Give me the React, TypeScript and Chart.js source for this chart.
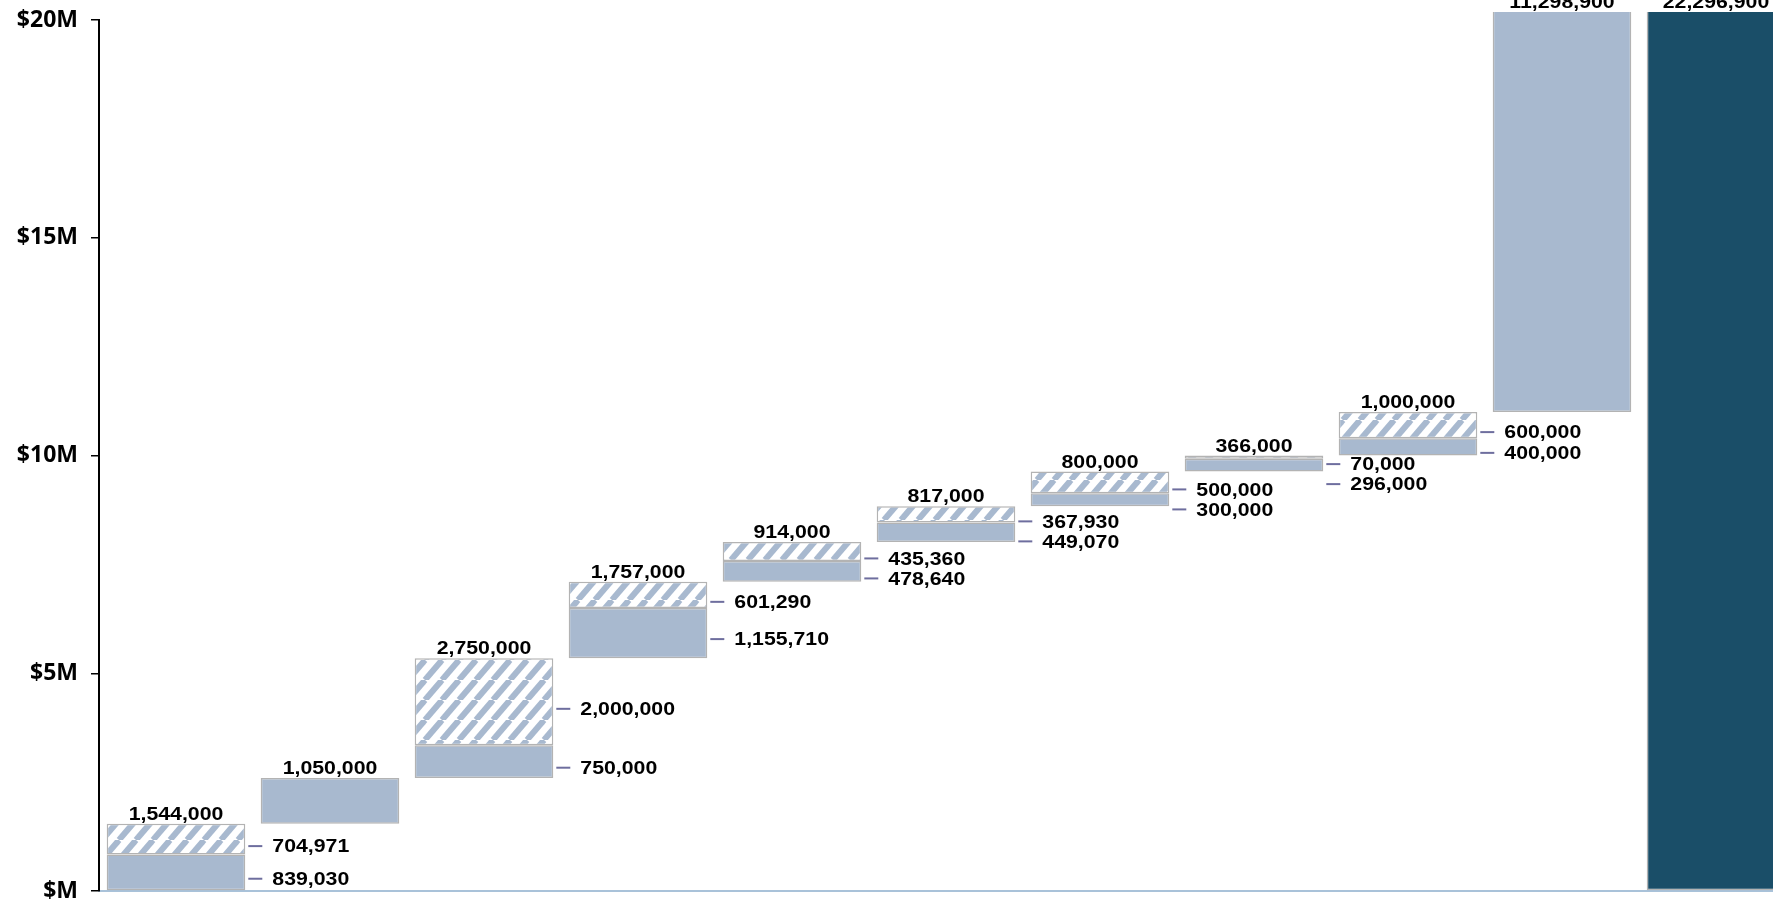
import React, { useEffect, useRef } from 'react';
import { Chart, registerables } from 'chart.js';

Chart.register(...registerables);

// ---- Data ----
const categories = ['Step 1', 'Step 2', 'Step 3', 'Step 4', 'Step 5', 'Step 6', 'Step 7', 'Step 8', 'Step 9', 'Step 10', 'Total'];
const stepTotals = [1544000, 1050000, 2750000, 1757000, 914000, 817000, 800000, 366000, 1000000, 11298900, 22296900];
const solidValues = [839030, 1050000, 750000, 1155710, 478640, 449070, 300000, 296000, 400000, 11298900, 22296900];
const hatchedValues = [704971, 0, 2000000, 601290, 435360, 367930, 500000, 70000, 600000, 0, 0];
const isTotal = [false, false, false, false, false, false, false, false, false, false, true];
const tickValues = [0, 5000000, 10000000, 15000000, 20000000];
const tickLabels = ['$M', '$5M', '$10M', '$15M', '$20M'];

// ---- Derived waterfall bases ----
const bases: number[] = [];
{
  let running = 0;
  for (let i = 0; i < stepTotals.length; i++) {
    if (isTotal[i]) {
      bases.push(0);
    } else {
      bases.push(running);
      running += stepTotals[i];
    }
  }
}
const solidRanges = solidValues.map((v, i) => [bases[i], bases[i] + v]);
const hatchedRanges = hatchedValues.map((v, i) =>
  v > 0 ? [bases[i] + solidValues[i], bases[i] + stepTotals[i]] : null
);

const fmt = (v: number) => v.toLocaleString('en-US');

const SOLID = '#a8b9cf';
const DARK = '#1a4e68';
const BORDER = '#b3b3b3';
const CLIP_TOP = 8;

function makeHatch(): CanvasPattern | string {
  const W = 17;
  const H = 20;
  const c = document.createElement('canvas');
  c.width = W;
  c.height = H;
  const ctx = c.getContext('2d');
  if (!ctx) return SOLID;
  ctx.fillStyle = '#ffffff';
  ctx.fillRect(0, 0, W, H);
  ctx.strokeStyle = SOLID;
  ctx.lineWidth = 6;
  for (const dx of [-W, 0, W]) {
    ctx.beginPath();
    ctx.moveTo(dx, H);
    ctx.lineTo(dx + W, 0);
    ctx.stroke();
  }
  const mainCtx = document.createElement('canvas').getContext('2d');
  const p = mainCtx ? mainCtx.createPattern(c, 'repeat') : null;
  return p || SOLID;
}

function drawStretched(ctx: CanvasRenderingContext2D, text: string, x: number, y: number, align: CanvasTextAlign, baseline: CanvasTextBaseline) {
  ctx.save();
  ctx.translate(x, y);
  ctx.scale(1.12, 1);
  ctx.textAlign = align;
  ctx.textBaseline = baseline;
  ctx.fillText(text, 0, 0);
  ctx.restore();
}

const labelPlugin = {
  id: 'waterfallLabels',
  afterDatasetsDraw(chart: any) {
    const ctx: CanvasRenderingContext2D = chart.ctx;
    const y = chart.scales.y;
    const area = chart.chartArea;
    const meta = chart.getDatasetMeta(0);
    ctx.save();
    ctx.fillStyle = '#000000';
    ctx.font = "bold 19px 'Liberation Sans', Arial, sans-serif";
    for (let i = 0; i < stepTotals.length; i++) {
      const el = meta.data[i];
      if (!el) continue;
      const right = el.x + el.width / 2;
      const topPx = Math.max(y.getPixelForValue(bases[i] + stepTotals[i]), area.top - CLIP_TOP);
      drawStretched(ctx, fmt(stepTotals[i]), el.x, topPx - 4, 'center', 'alphabetic');
      if (hatchedValues[i] > 0) {
        const pBase = y.getPixelForValue(bases[i]);
        const pMid = y.getPixelForValue(bases[i] + solidValues[i]);
        const pTop = y.getPixelForValue(bases[i] + stepTotals[i]);
        const upperY = (pMid + pTop) / 2 + 7;
        let lowerY = (pBase + pMid) / 2 + 6;
        if (lowerY - upperY < 20) lowerY = upperY + 20;
        const items: [number, number][] = [[upperY, hatchedValues[i]], [lowerY, solidValues[i]]];
        for (const [ly, val] of items) {
          ctx.save();
          ctx.strokeStyle = '#6e6e9e';
          ctx.lineWidth = 2;
          ctx.beginPath();
          ctx.moveTo(right + 3, ly);
          ctx.lineTo(right + 17, ly);
          ctx.stroke();
          ctx.restore();
          drawStretched(ctx, fmt(val), right + 27, ly + 1, 'left', 'middle');
        }
      }
    }
    ctx.restore();
  },
};

export default function App() {
  const canvasRef = useRef<HTMLCanvasElement | null>(null);

  useEffect(() => {
    document.body.style.margin = '0';
    const canvas = canvasRef.current;
    if (!canvas) return;
    const hatch = makeHatch();
    const chart = new Chart(canvas, {
      type: 'bar',
      data: {
        labels: categories,
        datasets: [
          {
            label: 'Solid',
            data: solidRanges as any,
            backgroundColor: solidValues.map((_, i) => (isTotal[i] ? DARK : SOLID)),
            borderColor: BORDER,
            borderWidth: 1.5,
            borderSkipped: false,
            grouped: false,
            barPercentage: 0.9,
            categoryPercentage: 1.0,
            clip: { left: 0, top: CLIP_TOP, right: 0, bottom: 0 } as any,
          },
          {
            label: 'Hatched',
            data: hatchedRanges as any,
            backgroundColor: hatch as any,
            borderColor: BORDER,
            borderWidth: 1.5,
            borderSkipped: false,
            grouped: false,
            barPercentage: 0.9,
            categoryPercentage: 1.0,
            clip: { left: 0, top: CLIP_TOP, right: 0, bottom: 0 } as any,
          },
        ],
      },
      options: {
        animation: false,
        responsive: false,
        devicePixelRatio: 1,
        layout: { padding: { top: 20, right: 0, bottom: 0, left: 0 } },
        plugins: {
          legend: { display: false },
          tooltip: { enabled: false },
        },
        scales: {
          x: {
            type: 'category',
            ticks: { display: false },
            grid: { display: false },
            border: { display: true, color: '#a9c2d9', width: 2 },
            afterFit: (scale: any) => {
              scale.height = 8;
              scale.paddingLeft = 0;
              scale.paddingRight = 0;
            },
          },
          y: {
            type: 'linear',
            min: 0,
            max: 20000000,
            afterBuildTicks: (scale: any) => {
              scale.ticks = tickValues.map((v) => ({ value: v }));
            },
            ticks: {
              color: '#000000',
              padding: 13,
              font: { family: "'Open Sans', sans-serif", size: 23, weight: 'bold' },
              callback: (value: any) => {
                const idx = tickValues.indexOf(Number(value));
                return idx >= 0 ? tickLabels[idx] : '';
              },
            },
            grid: {
              display: true,
              drawOnChartArea: false,
              drawTicks: true,
              tickLength: 8,
              color: '#000000',
              lineWidth: 1.5,
            },
            border: { display: true, color: '#000000', width: 2 },
            afterFit: (scale: any) => {
              scale.width = 99;
              scale.paddingTop = 0;
              scale.paddingBottom = 0;
            },
          },
        },
      },
      plugins: [labelPlugin],
    });
    return () => {
      chart.destroy();
    };
  }, []);

  return (
    <div style={{ width: 1773, height: 899, overflow: 'hidden', position: 'relative' }}>
      <canvas ref={canvasRef} width={1793} height={899} style={{ display: 'block' }} />
    </div>
  );
}
